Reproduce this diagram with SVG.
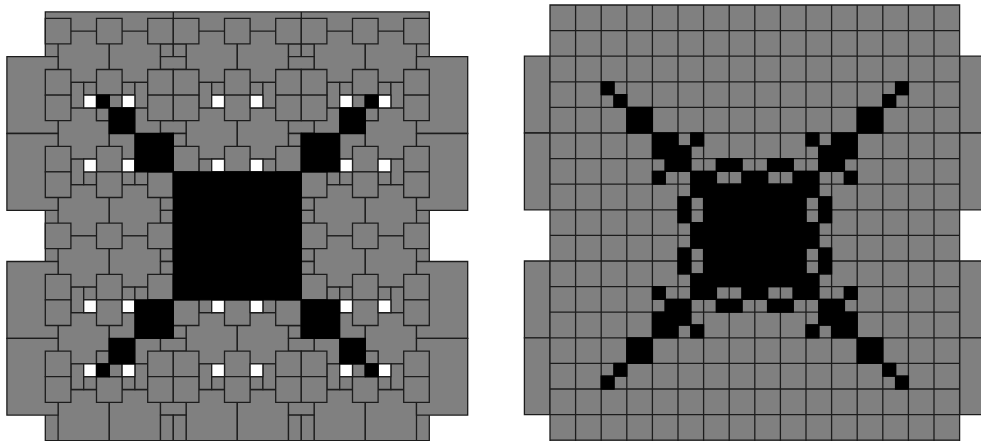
<svg xmlns="http://www.w3.org/2000/svg" width="981" height="441" viewBox="0 0 981 441">
<style>
.g{fill:#808080;stroke:#1c1c1c;stroke-width:1.3px;vector-effect:non-scaling-stroke}
.k{fill:#000;stroke:#000;stroke-width:1.3px;vector-effect:non-scaling-stroke}
.w{fill:#fff;stroke:#1c1c1c;stroke-width:1.3px;vector-effect:non-scaling-stroke}
.ln{fill:none;stroke:#1c1c1c;stroke-width:1.3px;vector-effect:non-scaling-stroke}
</style>
<defs>
<rect id="B" class="g" width="2" height="2"/>
<rect id="S" class="g" width="1" height="1"/>
<rect id="T" class="g" width="2" height="3"/>
<rect id="W" class="w" width=".5" height=".5"/>
<rect id="q" class="k" width=".5" height=".5"/>
<rect id="F" class="k" width="1" height="1"/>
<g id="hL"><rect class="g" width=".5" height="1"/><rect class="g" x=".5" width=".5" height=".5"/><rect class="g" x=".5" y=".5" width=".5" height=".5"/></g>
<g id="hR"><rect class="g" width=".5" height=".5"/><rect class="g" y=".5" width=".5" height=".5"/><rect class="g" x=".5" width=".5" height="1"/></g>
<g id="vT"><rect class="g" width=".5" height=".5"/><rect class="g" x=".5" width=".5" height=".5"/><rect class="g" y=".5" width="1" height=".5"/></g>
<g id="vB"><rect class="g" width="1" height=".5"/><rect class="g" y=".5" width=".5" height=".5"/><rect class="g" x=".5" y=".5" width=".5" height=".5"/></g>
<g id="Q"><rect class="g" width=".5" height=".5"/><rect class="g" x=".5" width=".5" height=".5"/><rect class="g" y=".5" width=".5" height=".5"/><rect class="g" x=".5" y=".5" width=".5" height=".5"/></g>
<g id="br"><use href="#B" x=".5"/><use href="#B" x="2.5"/><use href="#B" x="5.5"/><use href="#B" x="7.5"/><use href="#B" x="10.5"/><use href="#B" x="12.5"/></g>
<g id="sr"><use href="#S" x="0"/><use href="#S" x="2"/><use href="#S" x="4"/><use href="#S" x="5"/><use href="#S" x="7"/><use href="#S" x="9"/><use href="#S" x="10"/><use href="#S" x="12"/><use href="#S" x="14"/></g>
<g id="hg"><use href="#hL" x="1"/><use href="#hR" x="3"/><use href="#hL" x="6"/><use href="#hR" x="8"/><use href="#hL" x="11"/><use href="#hR" x="13"/></g>
<g id="wr"><use href="#W" x="1.5"/><use href="#W" x="3"/><use href="#W" x="6.5"/><use href="#W" x="8"/><use href="#W" x="11.5"/><use href="#W" x="13"/></g>
</defs>
<rect width="981" height="441" fill="#fff"/>

<g id="left-panel" transform="translate(45.3 18.3) scale(25.6)">
<rect class="g" x="0" y="-0.25" width="15" height="16.75"/>
<g id="left-big">
<use href="#br" y="0.5"/><use href="#br" y="3.5"/><use href="#br" y="6.5"/><use href="#br" y="8.5"/><use href="#br" y="11.5"/><use href="#br" y="14.5"/>
</g>
<g id="left-tabs">
<use href="#T" x="-1.5" y="1.5"/><use href="#T" x="-1.5" y="4.5"/><use href="#T" x="-1.5" y="9.5"/><use href="#T" x="-1.5" y="12.5"/>
<use href="#T" x="14.5" y="1.5"/><use href="#T" x="14.5" y="4.5"/><use href="#T" x="14.5" y="9.5"/><use href="#T" x="14.5" y="12.5"/>
</g>
<g id="left-gaps">
<use href="#hg" y="2.5"/><use href="#hg" y="5.5"/><use href="#hg" y="10.5"/><use href="#hg" y="13.5"/>
<use href="#vT" x="4.5" y="1"/><use href="#vT" x="9.5" y="1"/>
<use href="#vB" x="4.5" y="4"/><use href="#vB" x="9.5" y="4"/>
<use href="#vB" x="4.5" y="7"/><use href="#vB" x="9.5" y="7"/>
<use href="#vT" x="4.5" y="9"/><use href="#vT" x="9.5" y="9"/>
<use href="#vT" x="4.5" y="12"/><use href="#vT" x="9.5" y="12"/>
<rect class="g" x="4.5" y="15" width="1" height=".5"/><rect class="g" x="4.5" y="15.5" width=".5" height="1"/><rect class="g" x="5" y="15.5" width=".5" height="1"/>
<rect class="g" x="9.5" y="15" width="1" height=".5"/><rect class="g" x="9.5" y="15.5" width=".5" height="1"/><rect class="g" x="10" y="15.5" width=".5" height="1"/>
<path class="ln" d="M5 -0.25V0M10 -0.25V0"/>
</g>
<g id="left-small">
<use href="#sr" y="0"/><use href="#sr" y="2"/><use href="#sr" y="3"/><use href="#sr" y="5"/><use href="#sr" y="6"/><use href="#sr" y="8"/><use href="#sr" y="10"/><use href="#sr" y="11"/><use href="#sr" y="13"/><use href="#sr" y="14"/>
<use href="#Q" x="2" y="3"/><use href="#Q" x="12" y="3"/><use href="#Q" x="2" y="13"/><use href="#Q" x="12" y="13"/>
</g>
<g id="left-white">
<use href="#wr" y="3"/><use href="#wr" y="5.5"/><use href="#wr" y="11"/><use href="#wr" y="13.5"/>
</g>
<g id="left-black">
<rect class="k" x="5" y="6" width="5" height="5"/>
<rect class="k" x="2" y="3" width=".5" height=".5"/><rect class="k" x="2.5" y="3.5" width="1" height="1"/><rect class="k" x="3.5" y="4.5" width="1.5" height="1.5"/>
<rect class="k" x="12.5" y="3" width=".5" height=".5"/><rect class="k" x="11.5" y="3.5" width="1" height="1"/><rect class="k" x="10" y="4.5" width="1.5" height="1.5"/>
<rect class="k" x="2" y="13.5" width=".5" height=".5"/><rect class="k" x="2.5" y="12.5" width="1" height="1"/><rect class="k" x="3.5" y="11" width="1.5" height="1.5"/>
<rect class="k" x="12.5" y="13.5" width=".5" height=".5"/><rect class="k" x="11.5" y="12.5" width="1" height="1"/><rect class="k" x="10" y="11" width="1.5" height="1.5"/>
</g>
</g>

<g id="right-panel" transform="translate(550 5) scale(25.6)">
<g id="right-tabs">
<rect class="g" x="-1" y="2" width="1" height="3"/><rect class="g" x="-1" y="5" width="1" height="3"/><rect class="g" x="-1" y="10" width="1" height="3"/><rect class="g" x="-1" y="13" width="1" height="3"/>
<rect class="g" x="16" y="2" width="1" height="3"/><rect class="g" x="16" y="5" width="1" height="3"/><rect class="g" x="16" y="10" width="1" height="3"/><rect class="g" x="16" y="13" width="1" height="3"/>
</g>
<rect class="g" x="0" y="0" width="16" height="18"/>
<path class="ln" d="M1 0V18M2 0V18M3 0V18M4 0V18M5 0V18M6 0V18M7 0V18M8 0V18M9 0V18M10 0V18M11 0V18M12 0V18M13 0V18M14 0V18M15 0V18M0 1H16M0 2H16M0 3H16M0 4H16M0 5H16M0 6H16M0 7H16M0 8H16M0 9H16M0 10H16M0 11H16M0 12H16M0 13H16M0 14H16M0 15H16M0 16H16M0 17H16"/>
<path class="ln" d="M2.5 3v1M2 3.5h1M5.5 6v1M5 6.5h1M7.5 6v1M7 6.5h1M5.5 8v1M5 8.5h1M10.5 5v1M10 5.5h1M11.5 6v1M11 6.5h1M9.5 6v1M9 6.5h1M10.5 7v1M10 7.5h1M5.5 12v1M5 12.5h1M4.5 11v1M4 11.5h1M6.5 11v1M6 11.5h1M5.5 10v1M5 10.5h1M13.5 14v1M13 14.5h1M10.5 11v1M10 11.5h1M8.5 11v1M8 11.5h1M10.5 9v1M10 9.5h1M5.5 5v1M5 5.5h1M4.5 6v1M4 6.5h1M6.5 6v1M6 6.5h1M5.5 7v1M5 7.5h1M13.5 3v1M13 3.5h1M10.5 6v1M10 6.5h1M8.5 6v1M8 6.5h1M10.5 8v1M10 8.5h1M2.5 14v1M2 14.5h1M5.5 11v1M5 11.5h1M7.5 11v1M7 11.5h1M5.5 9v1M5 9.5h1M10.5 12v1M10 12.5h1M11.5 11v1M11 11.5h1M9.5 11v1M9 11.5h1M10.5 10v1M10 10.5h1"/>
<g id="right-black">
<rect class="k" x="6" y="7" width="4" height="4"/>
<use href="#F" x="3" y="4"/><use href="#F" x="4" y="5"/><use href="#F" x="12" y="4"/><use href="#F" x="11" y="5"/>
<use href="#F" x="3" y="13"/><use href="#F" x="4" y="12"/><use href="#F" x="12" y="13"/><use href="#F" x="11" y="12"/>
<use href="#q" x="2" y="3"/><use href="#q" x="2.5" y="3.5"/>
<use href="#q" x="5" y="6"/><use href="#q" x="5.5" y="6.5"/>
<use href="#q" x="7" y="6"/><use href="#q" x="7.5" y="6.5"/>
<use href="#q" x="5" y="8"/><use href="#q" x="5.5" y="8.5"/>
<use href="#q" x="10" y="5"/><use href="#q" x="10.5" y="5.5"/>
<use href="#q" x="11" y="6"/><use href="#q" x="11.5" y="6.5"/>
<use href="#q" x="9" y="6"/><use href="#q" x="9.5" y="6.5"/>
<use href="#q" x="10" y="7"/><use href="#q" x="10.5" y="7.5"/>
<use href="#q" x="5" y="12"/><use href="#q" x="5.5" y="12.5"/>
<use href="#q" x="4" y="11"/><use href="#q" x="4.5" y="11.5"/>
<use href="#q" x="6" y="11"/><use href="#q" x="6.5" y="11.5"/>
<use href="#q" x="5" y="10"/><use href="#q" x="5.5" y="10.5"/>
<use href="#q" x="13" y="14"/><use href="#q" x="13.5" y="14.5"/>
<use href="#q" x="10" y="11"/><use href="#q" x="10.5" y="11.5"/>
<use href="#q" x="8" y="11"/><use href="#q" x="8.5" y="11.5"/>
<use href="#q" x="10" y="9"/><use href="#q" x="10.5" y="9.5"/>
<use href="#q" x="5.5" y="5"/><use href="#q" x="5" y="5.5"/>
<use href="#q" x="4.5" y="6"/><use href="#q" x="4" y="6.5"/>
<use href="#q" x="6.5" y="6"/><use href="#q" x="6" y="6.5"/>
<use href="#q" x="5.5" y="7"/><use href="#q" x="5" y="7.5"/>
<use href="#q" x="13.5" y="3"/><use href="#q" x="13" y="3.5"/>
<use href="#q" x="10.5" y="6"/><use href="#q" x="10" y="6.5"/>
<use href="#q" x="8.5" y="6"/><use href="#q" x="8" y="6.5"/>
<use href="#q" x="10.5" y="8"/><use href="#q" x="10" y="8.5"/>
<use href="#q" x="2.5" y="14"/><use href="#q" x="2" y="14.5"/>
<use href="#q" x="5.5" y="11"/><use href="#q" x="5" y="11.5"/>
<use href="#q" x="7.5" y="11"/><use href="#q" x="7" y="11.5"/>
<use href="#q" x="5.5" y="9"/><use href="#q" x="5" y="9.5"/>
<use href="#q" x="10.5" y="12"/><use href="#q" x="10" y="12.5"/>
<use href="#q" x="11.5" y="11"/><use href="#q" x="11" y="11.5"/>
<use href="#q" x="9.5" y="11"/><use href="#q" x="9" y="11.5"/>
<use href="#q" x="10.5" y="10"/><use href="#q" x="10" y="10.5"/>
</g>
</g>
</svg>
